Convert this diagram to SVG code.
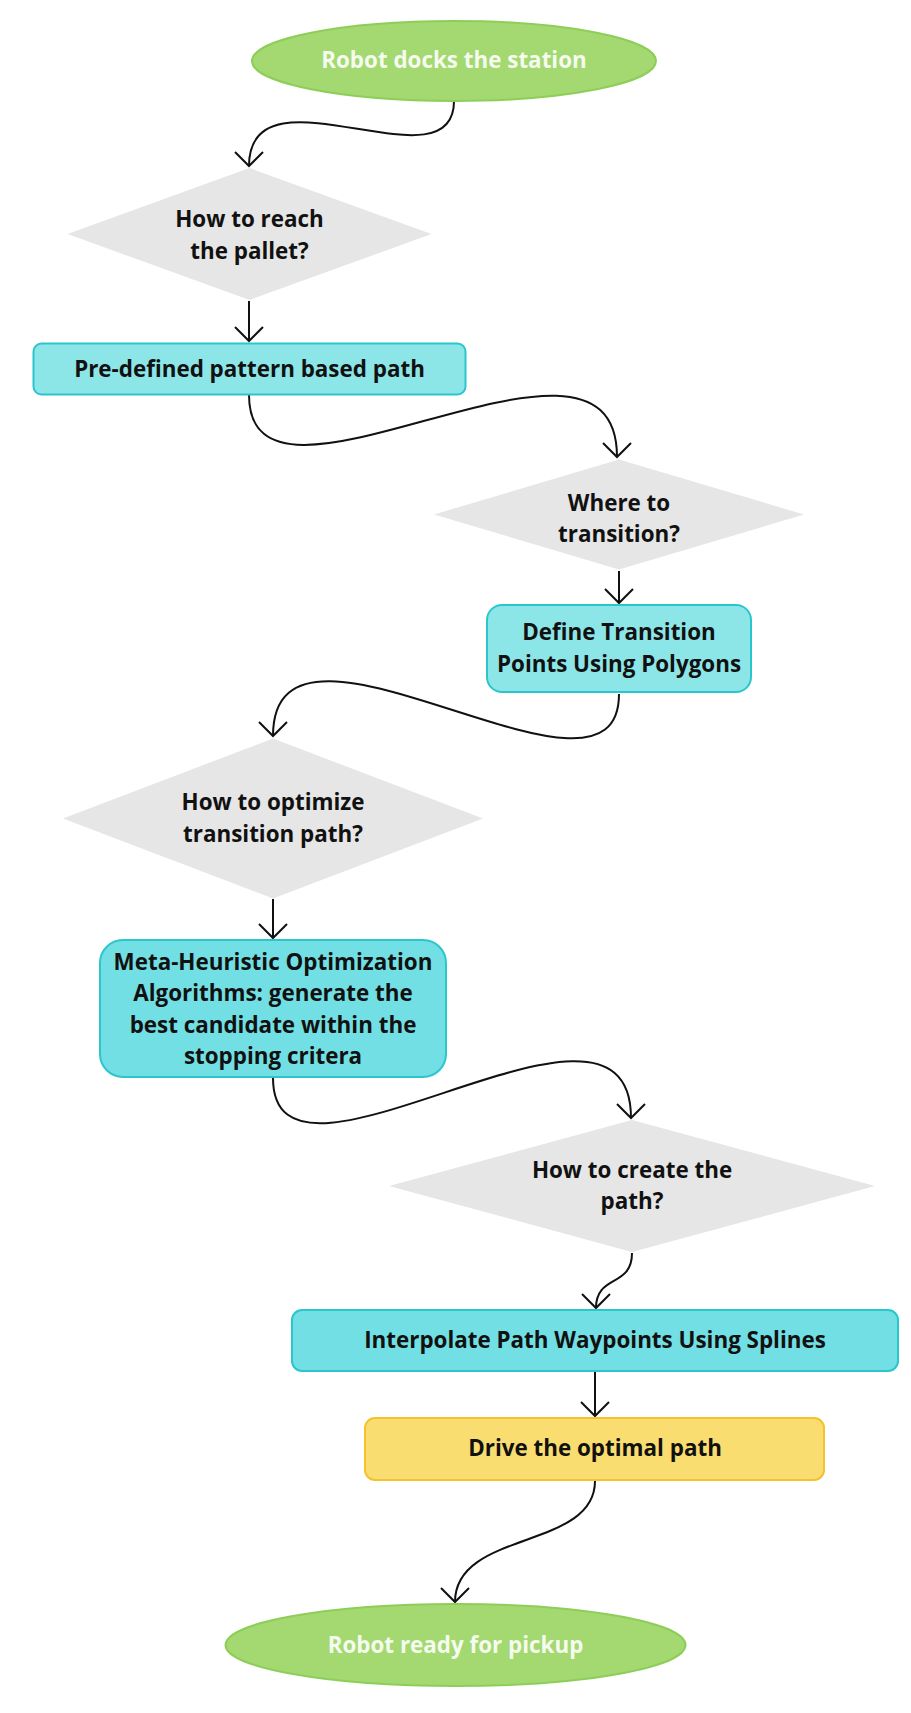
<svg xmlns="http://www.w3.org/2000/svg" width="911" height="1713" viewBox="0 0 911 1713">
<defs>
<style>
.t{font-family:"Open Sans","Noto Sans","Liberation Sans",sans-serif;font-weight:700;font-size:22.4px;fill:#111;text-anchor:middle}
.tw{fill:#f6fbf0}
.ell{fill:#a3d970;stroke:#8dce58;stroke-width:2}
.dia{fill:#e6e6e6}
.bx1{fill:#8ce6e8;stroke:#2bc6cc;stroke-width:2}
.bx2{fill:#71dfe3;stroke:#2bc6cc;stroke-width:2}
.bx3{fill:#fadd70;stroke:#f3c22c;stroke-width:2}
.c{fill:none;stroke:#111;stroke-width:2;marker-end:url(#arr)}
</style>
<marker id="arr" markerUnits="userSpaceOnUse" orient="auto" overflow="visible" refX="0" refY="0" markerWidth="1" markerHeight="1">
<path d="M-14,-14 L0,0 L-14,14" fill="none" stroke="#111" stroke-width="2"/>
</marker>
</defs>
<rect width="911" height="1713" fill="#fff"/>
<g id="connectors">
<path class="c" d="M454,101 C454,192 249,60 249,166"/>
<path class="c" d="M249,301 L249,341"/>
<path class="c" d="M249,395 C249,548 617,284 617,457"/>
<path class="c" d="M619,571 L619,603"/>
<path class="c" d="M619,694 C619,837 273,574 273,736"/>
<path class="c" d="M273,899 L273,938"/>
<path class="c" d="M273,1078 C273,1226 631,949 631,1118"/>
<path class="c" d="M632,1253 C632,1288 596,1274 596,1308"/>
<path class="c" d="M595,1372 L595,1416"/>
<path class="c" d="M595,1481 C595,1550 455,1530 455,1602"/>
</g>
<g id="n1">
<ellipse class="ell" cx="454" cy="61" rx="202" ry="40"/>
<text class="t tw" x="454" y="68">Robot docks the station</text>
</g>
<g id="n2">
<polygon class="dia" points="249.5,168 431.5,234 249.5,300 67.5,234"/>
<text class="t" x="249.5" y="227">How to reach</text>
<text class="t" x="249.5" y="258.5">the pallet?</text>
</g>
<g id="n3">
<rect class="bx1" x="33.5" y="343.5" width="432" height="51" rx="8"/>
<text class="t" x="249.5" y="377">Pre-defined pattern based path</text>
</g>
<g id="n4">
<polygon class="dia" points="619,459.5 804,514.5 619,569.5 434,514.5"/>
<text class="t" x="619" y="511">Where to</text>
<text class="t" x="619" y="541.5">transition?</text>
</g>
<g id="n5">
<rect class="bx1" x="487" y="605" width="264" height="87" rx="15"/>
<text class="t" x="619" y="640">Define Transition</text>
<text class="t" x="619" y="671.5">Points Using Polygons</text>
</g>
<g id="n6">
<polygon class="dia" points="273,738.5 483,818.5 273,898.5 63,818.5"/>
<text class="t" x="273" y="810">How to optimize</text>
<text class="t" x="273" y="841.5">transition path?</text>
</g>
<g id="n7">
<rect class="bx2" x="100" y="940" width="346" height="137" rx="23"/>
<text class="t" x="273" y="969.5">Meta-Heuristic Optimization</text>
<text class="t" x="273" y="1001">Algorithms: generate the</text>
<text class="t" x="273" y="1032.5">best candidate within the</text>
<text class="t" x="273" y="1063.5">stopping critera</text>
</g>
<g id="n8">
<polygon class="dia" points="632,1120 875,1186 632,1252 389,1186"/>
<text class="t" x="632" y="1177.5">How to create the</text>
<text class="t" x="632" y="1208.5">path?</text>
</g>
<g id="n9">
<rect class="bx2" x="292" y="1310" width="606" height="61" rx="10"/>
<text class="t" x="595" y="1348">Interpolate Path Waypoints Using Splines</text>
</g>
<g id="n10">
<rect class="bx3" x="365" y="1418" width="459" height="62" rx="10"/>
<text class="t" x="595" y="1456">Drive the optimal path</text>
</g>
<g id="n11">
<ellipse class="ell" cx="455.5" cy="1645" rx="230" ry="41"/>
<text class="t tw" x="455.5" y="1653">Robot ready for pickup</text>
</g>
</svg>
